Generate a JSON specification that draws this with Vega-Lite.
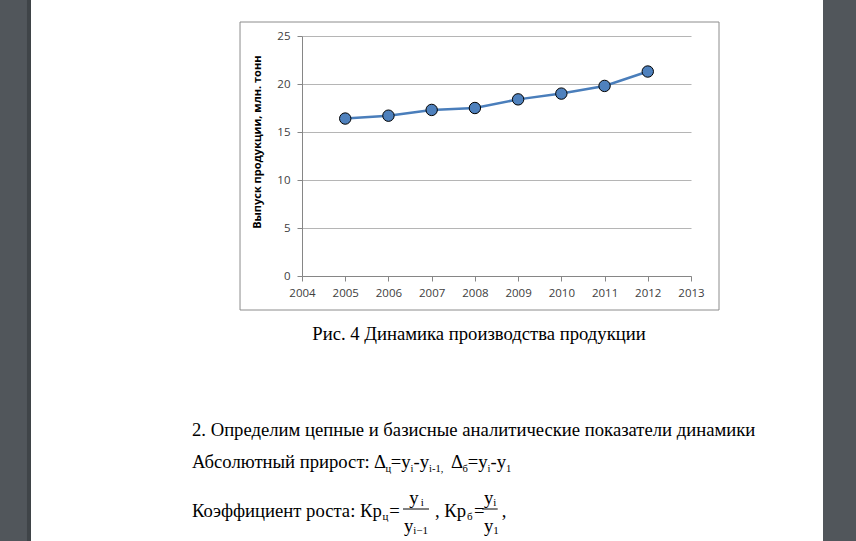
{
  "$schema": "https://vega.github.io/schema/vega-lite/v6.json",
  "width": 389,
  "height": 240,
  "autosize": "none",
  "padding": {"left": 302, "top": 36, "right": 165, "bottom": 265},
  "background": "white",
  "config": {
    "view": {"stroke": null},
    "axis": {
      "domainColor": "#868686",
      "tickColor": "#868686",
      "tickSize": 5,
      "labelFont": "Open Sans",
      "labelFontSize": 11.5,
      "labelColor": "#404040",
      "labelFlush": false,
      "labelOverlap": false
    },
    "text": {"font": "Liberation Serif", "fontSize": 18.67, "align": "left", "baseline": "alphabetic", "color": "#000000"}
  },
  "layer": [
    {
      "data": {"values": [{"side": "left"}]},
      "mark": {"type": "rect", "color": "#51565b"},
      "encoding": {
        "x": {"datum": 1996.5, "type": "quantitative"},
        "x2": {"datum": 1997.7301},
        "y": {"datum": 30, "type": "quantitative"},
        "y2": {"datum": -30}
      }
    },
    {
      "data": {"values": [{"side": "left-edge"}]},
      "mark": {"type": "rect", "color": "#3f4448"},
      "encoding": {
        "x": {"datum": 1997.6375, "type": "quantitative"},
        "x2": {"datum": 1997.7301},
        "y": {"datum": 30, "type": "quantitative"},
        "y2": {"datum": -30}
      }
    },
    {
      "data": {"values": [{"side": "right"}]},
      "mark": {"type": "rect", "color": "#51565b"},
      "encoding": {
        "x": {"datum": 2016.054, "type": "quantitative"},
        "x2": {"datum": 2017.5},
        "y": {"datum": 30, "type": "quantitative"},
        "y2": {"datum": -30}
      }
    },
    {
      "data": {"values": [{"frame": "chart"}]},
      "mark": {"type": "rect", "fill": null, "fillOpacity": 0, "stroke": "#8c8c8c", "strokeWidth": 1},
      "encoding": {
        "x": {"datum": 2002.566, "type": "quantitative"},
        "x2": {"datum": 2013.648},
        "y": {"datum": 26.458, "type": "quantitative"},
        "y2": {"datum": -3.542}
      }
    },
    {
      "data": {
        "values": [
          {"year": 2005, "value": 16.4},
          {"year": 2006, "value": 16.7},
          {"year": 2007, "value": 17.3},
          {"year": 2008, "value": 17.5},
          {"year": 2009, "value": 18.4},
          {"year": 2010, "value": 19.0},
          {"year": 2011, "value": 19.8},
          {"year": 2012, "value": 21.3}
        ]
      },
      "encoding": {
        "x": {
          "field": "year",
          "type": "quantitative",
          "scale": {"domain": [2004, 2013], "nice": false, "zero": false},
          "axis": {
            "title": null,
            "values": [2004, 2005, 2006, 2007, 2008, 2009, 2010, 2011, 2012, 2013],
            "format": "d",
            "grid": false,
            "labelPadding": 6
          }
        },
        "y": {
          "field": "value",
          "type": "quantitative",
          "scale": {"domain": [0, 25], "nice": false},
          "axis": {
            "title": "Выпуск продукции, млн. тонн",
            "values": [0, 5, 10, 15, 20, 25],
            "grid": true,
            "gridColor": "#b5b5b5",
            "labelPadding": 7,
            "titleFont": "Open Sans",
            "titleFontWeight": "bold",
            "titleFontSize": 11,
            "titleColor": "#000000",
            "titleAngle": -90,
            "titleAlign": "center",
            "titleBaseline": "middle",
            "titleX": -44.3,
            "titleY": 105.7
          }
        }
      },
      "layer": [
        {"mark": {"type": "line", "color": "#4a7ebb", "strokeWidth": 2.5}},
        {"mark": {"type": "point", "filled": true, "fill": "#4f81bd", "stroke": "#000000", "strokeWidth": 1, "size": 130, "opacity": 1}}
      ]
    },
    {
      "data": {"values": [{"t": "Рис. 4 Динамика производства продукции"}]},
      "mark": {"type": "text", "align": "center"},
      "encoding": {"x": {"datum": 2008.095, "type": "quantitative"}, "y": {"datum": -6.615, "type": "quantitative"}, "text": {"field": "t"}}
    },
    {
      "data": {"values": [{"t": "2. Определим цепные и базисные аналитические показатели динамики"}]},
      "mark": {"type": "text"},
      "encoding": {"x": {"datum": 2001.455, "type": "quantitative"}, "y": {"datum": -16.667, "type": "quantitative"}, "text": {"field": "t"}}
    },
    {
      "data": {"values": [{"t": "Абсолютный прирост:"}]},
      "mark": {"type": "text"},
      "encoding": {"x": {"datum": 2001.455, "type": "quantitative"}, "y": {"datum": -20.0, "type": "quantitative"}, "text": {"field": "t"}}
    },
    {
      "data": {"values": [{"t": "Δ"}]},
      "mark": {"type": "text"},
      "encoding": {"x": {"datum": 2005.6658, "type": "quantitative"}, "y": {"datum": -20.0, "type": "quantitative"}, "text": {"field": "t"}}
    },
    {
      "data": {"values": [{"t": "=y"}]},
      "mark": {"type": "text"},
      "encoding": {"x": {"datum": 2006.0522, "type": "quantitative"}, "y": {"datum": -20.0, "type": "quantitative"}, "text": {"field": "t"}}
    },
    {
      "data": {"values": [{"t": "-y"}]},
      "mark": {"type": "text"},
      "encoding": {"x": {"datum": 2006.5797, "type": "quantitative"}, "y": {"datum": -20.0, "type": "quantitative"}, "text": {"field": "t"}}
    },
    {
      "data": {"values": [{"t": "Δ"}]},
      "mark": {"type": "text"},
      "encoding": {"x": {"datum": 2007.45, "type": "quantitative"}, "y": {"datum": -20.0, "type": "quantitative"}, "text": {"field": "t"}}
    },
    {
      "data": {"values": [{"t": "=y"}]},
      "mark": {"type": "text"},
      "encoding": {"x": {"datum": 2007.8363, "type": "quantitative"}, "y": {"datum": -20.0, "type": "quantitative"}, "text": {"field": "t"}}
    },
    {
      "data": {"values": [{"t": "-y"}]},
      "mark": {"type": "text"},
      "encoding": {"x": {"datum": 2008.3615, "type": "quantitative"}, "y": {"datum": -20.0, "type": "quantitative"}, "text": {"field": "t"}}
    },
    {
      "data": {"values": [{"t": "ц"}]},
      "mark": {"type": "text", "fontSize": 10.5},
      "encoding": {"x": {"datum": 2005.9296, "type": "quantitative"}, "y": {"datum": -20.365, "type": "quantitative"}, "text": {"field": "t"}}
    },
    {
      "data": {"values": [{"t": "i"}]},
      "mark": {"type": "text", "fontSize": 10.5},
      "encoding": {"x": {"datum": 2006.5126, "type": "quantitative"}, "y": {"datum": -20.365, "type": "quantitative"}, "text": {"field": "t"}}
    },
    {
      "data": {"values": [{"t": "i-1,"}]},
      "mark": {"type": "text", "fontSize": 10.5},
      "encoding": {"x": {"datum": 2006.9383, "type": "quantitative"}, "y": {"datum": -20.365, "type": "quantitative"}, "text": {"field": "t"}}
    },
    {
      "data": {"values": [{"t": "б"}]},
      "mark": {"type": "text", "fontSize": 10.5},
      "encoding": {"x": {"datum": 2007.7137, "type": "quantitative"}, "y": {"datum": -20.365, "type": "quantitative"}, "text": {"field": "t"}}
    },
    {
      "data": {"values": [{"t": "i"}]},
      "mark": {"type": "text", "fontSize": 10.5},
      "encoding": {"x": {"datum": 2008.2944, "type": "quantitative"}, "y": {"datum": -20.365, "type": "quantitative"}, "text": {"field": "t"}}
    },
    {
      "data": {"values": [{"t": "1"}]},
      "mark": {"type": "text", "fontSize": 10.5},
      "encoding": {"x": {"datum": 2008.7225, "type": "quantitative"}, "y": {"datum": -20.365, "type": "quantitative"}, "text": {"field": "t"}}
    },
    {
      "data": {"values": [{"t": "Коэффициент роста: Кр"}]},
      "mark": {"type": "text"},
      "encoding": {"x": {"datum": 2001.455, "type": "quantitative"}, "y": {"datum": -25.104, "type": "quantitative"}, "text": {"field": "t"}}
    },
    {
      "data": {"values": [{"t": "ц"}]},
      "mark": {"type": "text", "fontSize": 11},
      "encoding": {"x": {"datum": 2005.8625, "type": "quantitative"}, "y": {"datum": -25.417, "type": "quantitative"}, "text": {"field": "t"}}
    },
    {
      "data": {"values": [{"t": "="}]},
      "mark": {"type": "text"},
      "encoding": {"x": {"datum": 2006.02, "type": "quantitative"}, "y": {"datum": -25.104, "type": "quantitative"}, "text": {"field": "t"}}
    },
    {
      "data": {"values": [{"t": "y"}]},
      "mark": {"type": "text"},
      "encoding": {"x": {"datum": 2006.4825, "type": "quantitative"}, "y": {"datum": -23.75, "type": "quantitative"}, "text": {"field": "t"}}
    },
    {
      "data": {"values": [{"t": "i"}]},
      "mark": {"type": "text", "fontSize": 11},
      "encoding": {"x": {"datum": 2006.7463, "type": "quantitative"}, "y": {"datum": -23.958, "type": "quantitative"}, "text": {"field": "t"}}
    },
    {
      "data": {"values": [{"t": "y"}]},
      "mark": {"type": "text"},
      "encoding": {"x": {"datum": 2006.3599, "type": "quantitative"}, "y": {"datum": -26.667, "type": "quantitative"}, "text": {"field": "t"}}
    },
    {
      "data": {"values": [{"t": "i−1"}]},
      "mark": {"type": "text", "fontSize": 11},
      "encoding": {"x": {"datum": 2006.5751, "type": "quantitative"}, "y": {"datum": -26.875, "type": "quantitative"}, "text": {"field": "t"}}
    },
    {
      "data": {"values": [{"bar": "first"}]},
      "mark": {"type": "rule", "color": "#000000", "strokeWidth": 1},
      "encoding": {"x": {"datum": 2006.3368, "type": "quantitative"}, "x2": {"datum": 2006.9383}, "y": {"datum": -24.271, "type": "quantitative"}}
    },
    {
      "data": {"values": [{"t": ", Кр"}]},
      "mark": {"type": "text"},
      "encoding": {"x": {"datum": 2007.0771, "type": "quantitative"}, "y": {"datum": -25.104, "type": "quantitative"}, "text": {"field": "t"}}
    },
    {
      "data": {"values": [{"t": "б"}]},
      "mark": {"type": "text", "fontSize": 11},
      "encoding": {"x": {"datum": 2007.8175, "type": "quantitative"}, "y": {"datum": -25.417, "type": "quantitative"}, "text": {"field": "t"}}
    },
    {
      "data": {"values": [{"t": "="}]},
      "mark": {"type": "text"},
      "encoding": {"x": {"datum": 2007.9794, "type": "quantitative"}, "y": {"datum": -25.104, "type": "quantitative"}, "text": {"field": "t"}}
    },
    {
      "data": {"values": [{"bar": "second"}]},
      "mark": {"type": "rule", "color": "#000000", "strokeWidth": 1},
      "encoding": {"x": {"datum": 2008.1692, "type": "quantitative"}, "x2": {"datum": 2008.5278}, "y": {"datum": -24.271, "type": "quantitative"}}
    },
    {
      "data": {"values": [{"t": "y"}]},
      "mark": {"type": "text"},
      "encoding": {"x": {"datum": 2008.2108, "type": "quantitative"}, "y": {"datum": -23.75, "type": "quantitative"}, "text": {"field": "t"}}
    },
    {
      "data": {"values": [{"t": "i"}]},
      "mark": {"type": "text", "fontSize": 11},
      "encoding": {"x": {"datum": 2008.426, "type": "quantitative"}, "y": {"datum": -23.958, "type": "quantitative"}, "text": {"field": "t"}}
    },
    {
      "data": {"values": [{"t": "y"}]},
      "mark": {"type": "text"},
      "encoding": {"x": {"datum": 2008.2108, "type": "quantitative"}, "y": {"datum": -26.667, "type": "quantitative"}, "text": {"field": "t"}}
    },
    {
      "data": {"values": [{"t": "1"}]},
      "mark": {"type": "text", "fontSize": 11},
      "encoding": {"x": {"datum": 2008.426, "type": "quantitative"}, "y": {"datum": -26.875, "type": "quantitative"}, "text": {"field": "t"}}
    },
    {
      "data": {"values": [{"t": ","}]},
      "mark": {"type": "text"},
      "encoding": {"x": {"datum": 2008.6203, "type": "quantitative"}, "y": {"datum": -25.104, "type": "quantitative"}, "text": {"field": "t"}}
    }
  ]
}
